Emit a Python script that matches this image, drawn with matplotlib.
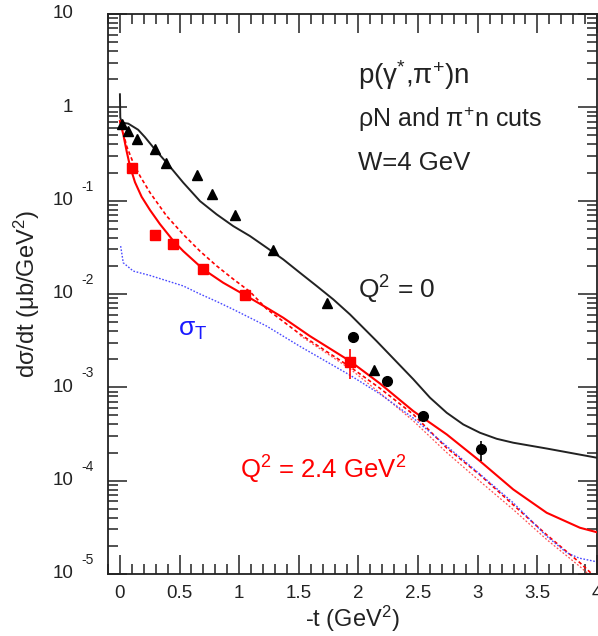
import matplotlib
matplotlib.use('Agg')
import matplotlib.pyplot as plt
import matplotlib.transforms as mtransforms
from matplotlib.ticker import FixedLocator, LogLocator, NullFormatter, MultipleLocator, FixedFormatter

plt.rcParams['font.family'] = ['Liberation Sans', 'DejaVu Sans']
plt.rcParams['mathtext.fontset'] = 'custom'
plt.rcParams['mathtext.rm'] = 'Liberation Sans'
plt.rcParams['mathtext.it'] = 'Liberation Sans:italic'
plt.rcParams['mathtext.bf'] = 'Liberation Sans:bold'

# ---------------- data ----------------
# Q^2 = 0 data (triangles and circles)
tri_t = [0.014, 0.07, 0.14, 0.293, 0.39, 0.643, 0.769, 0.964, 1.286, 1.733, 2.130]
tri_v = [0.657, 0.557, 0.454, 0.355, 0.255, 0.187, 0.117, 0.0701, 0.0293, 0.00793, 0.00153]
circ_t = [1.951, 2.241, 2.543, 3.027]
circ_v = [0.00349, 0.00116, 4.91e-4, 2.16e-4]
circ_elo = [0.0, 0.0, 0.0, 0.54e-4]
circ_ehi = [0.0, 0.0, 0.0, 0.49e-4]
# Q^2 = 2.4 data (squares)
sq_t = [0.098, 0.293, 0.447, 0.699, 1.048, 1.929]
sq_v = [0.226, 0.0428, 0.034, 0.0184, 0.00966, 0.00186]
sq_elo = [0.01, 0.003, 0.003, 0.002, 0.0008, 0.00064]
sq_ehi = [0.01, 0.003, 0.003, 0.002, 0.0008, 0.00069]

# model curves
bk_t = [0, 0.003, 0.014, 0.07, 0.153, 0.21, 0.293, 0.392, 0.531, 0.671, 0.811, 0.950, 1.090,
        1.230, 1.369, 1.509, 1.649, 1.789, 1.929, 2.152, 2.460, 2.600, 2.740, 2.879, 3.019,
        3.159, 3.298, 3.578, 4.0]
bk_v = [1.38, 0.78, 0.686, 0.669, 0.575, 0.479, 0.355, 0.255, 0.156, 0.099, 0.0713, 0.0534,
        0.0418, 0.0314, 0.0235, 0.0169, 0.0122, 0.00875, 0.00604, 0.00313, 0.00122, 7.74e-4,
        5.34e-4, 4.0e-4, 3.26e-4, 2.81e-4, 2.55e-4, 2.21e-4, 1.76e-4]

rs_t = [0, 0.028, 0.056, 0.084, 0.126, 0.182, 0.252, 0.335, 0.447, 0.531, 0.699, 0.866, 1.048,
        1.230, 1.369, 1.593, 1.929, 2.180, 2.460, 2.740, 3.019, 3.298, 3.578, 3.857, 4.0]
rs_v = [0.713, 0.514, 0.340, 0.235, 0.158, 0.110, 0.0794, 0.0562, 0.0372, 0.0288, 0.0184, 0.0132,
        0.00973, 0.00713, 0.00557, 0.00354, 0.00191, 0.0011, 5.56e-4, 3.13e-4, 1.62e-4, 8.05e-5,
        4.53e-5, 3.13e-5, 2.8e-5]

d1_t = [0, 0.028, 0.056, 0.11, 0.168, 0.252, 0.392, 0.531, 0.671, 0.811, 0.950, 1.090, 1.230,
        1.509, 1.929, 2.180, 2.460, 2.740, 3.020, 3.298, 3.578, 3.857, 4.0]
d1_v = [0.713, 0.537, 0.385, 0.257, 0.184, 0.122, 0.0684, 0.0435, 0.0288, 0.0200, 0.01445,
        0.0106, 0.00692, 0.00372, 0.00166, 9.77e-4, 5.13e-4, 2.24e-4, 1.15e-4, 5.5e-5, 2.63e-5,
        1.32e-5, 8.9e-6]

d2_t = [1.509, 1.929, 2.180, 2.460, 2.740, 3.020, 3.298, 3.578, 3.857, 4.0]
d2_v = [0.00360, 0.00158, 8.7e-4, 4.37e-4, 2.0e-4, 9.8e-5, 4.9e-5, 2.34e-5, 1.2e-5, 8.3e-6]

bl_t = [0.006, 0.028, 0.112, 0.252, 0.531, 0.671, 0.811, 0.950, 1.230, 1.509, 1.929, 2.180,
        2.460, 2.740, 3.020, 3.298, 3.578, 3.746, 3.850, 4.0]
bl_v = [0.0326, 0.0216, 0.0176, 0.0158, 0.0122, 0.0100, 0.00832, 0.00684, 0.00453, 0.00275,
        0.00135, 8.5e-4, 4.68e-4, 2.34e-4, 1.17e-4, 5.79e-5, 2.54e-5, 1.69e-5, 1.48e-5, 1.35e-5]

x_ticks = [0, 0.5, 1, 1.5, 2, 2.5, 3, 3.5, 4]
x_ticklabels = ['0', '0.5', '1', '1.5', '2', '2.5', '3', '3.5', '4']
y_decades = [10, 1, 1e-1, 1e-2, 1e-3, 1e-4, 1e-5]
y_bases = ['10', '1', '10', '10', '10', '10', '10']
y_exps = ['', '', '-1', '-2', '-3', '-4', '-5']

# ---------------- figure ----------------
fig = plt.figure(figsize=(5.98, 6.36), dpi=100)
ax = fig.add_axes([108/598, 62/636, 489/598, 560/636])
ax.set_yscale('log')
ax.set_xlim(-0.1, 4.0)
ax.set_ylim(1e-5, 10)

RED = '#ff0000'
INK = '#222222'
ax.plot(bk_t, bk_v, color=INK, lw=1.4, zorder=3)
ax.plot(rs_t, rs_v, color=RED, lw=1.5, zorder=3)
ax.plot(d1_t, d1_v, color=RED, lw=1.2, ls=(0, (2.2, 1.6)), zorder=2)
ax.plot(d2_t, d2_v, color='#ff5050', lw=0.9, ls=(0, (1.5, 1.5)), zorder=2)
ax.plot(bl_t, bl_v, color='#4a4aff', lw=1.0, ls=(0, (1.2, 1.2)), zorder=2)

ax.plot(tri_t, tri_v, ls='none', marker='^', ms=7.5, color='black', zorder=4)
ax.errorbar(circ_t, circ_v, yerr=[circ_elo, circ_ehi], fmt='o', ms=7, color='black',
            elinewidth=1.2, capsize=0, zorder=4)
ax.errorbar(sq_t, sq_v, yerr=[sq_elo, sq_ehi], fmt='s', ms=7.5, color=RED,
            elinewidth=1.2, capsize=0, zorder=5)

# ticks
ax.xaxis.set_major_locator(FixedLocator(x_ticks))
ax.xaxis.set_major_formatter(FixedFormatter(x_ticklabels))
ax.xaxis.set_minor_locator(MultipleLocator(0.1))
ax.yaxis.set_major_locator(FixedLocator(y_decades))
ax.yaxis.set_major_formatter(NullFormatter())
ax.yaxis.set_minor_locator(LogLocator(base=10, subs=[2, 3, 4, 5, 6, 7, 8, 9], numticks=20))
ax.yaxis.set_minor_formatter(NullFormatter())
ax.tick_params(which='both', direction='in', top=True, right=True, width=1.1, color=INK)
ax.tick_params(which='major', length=14)
ax.tick_params(which='minor', length=7)
ax.tick_params(axis='x', which='major', labelsize=13.5, pad=8, labelcolor=INK)
for s in ax.spines.values():
    s.set_linewidth(1.3)
    s.set_color(INK)

# y tick labels (base + raised exponent)
ytr = ax.get_yaxis_transform()
etr = mtransforms.offset_copy(ytr, fig=fig, x=0, y=10, units='points')
for v, b, e in zip(y_decades, y_bases, y_exps):
    ax.text(-0.0706, v, b, transform=ytr, ha='right', va='center', fontsize=13.5,
            color=INK, clip_on=False)
    if e:
        ax.text(-0.0537, v, e, transform=etr, ha='left', va='center', fontsize=10,
                color=INK, clip_on=False)

ax.set_xlabel('-t (GeV$^{2}$)', fontsize=17, labelpad=1, color=INK)
ax.text(-0.165, 0.5, 'd\u03c3/dt (\u03bcb/GeV$^{2}$)', transform=ax.transAxes, rotation=90,
        ha='center', va='center', fontsize=17, color=INK)

# annotations
ax.text(0.511, 0.891, 'p(\u03b3$^{*}$,\u03c0$^{+}$)n', transform=ax.transAxes,
        ha='left', va='center', fontsize=20, color=INK)
ax.text(0.511, 0.811, '\u03c1N and \u03c0$^{+}$n cuts', transform=ax.transAxes,
        ha='left', va='center', fontsize=18, color=INK)
ax.text(0.511, 0.734, 'W=4 GeV', transform=ax.transAxes,
        ha='left', va='center', fontsize=18.5, color=INK)
ax.text(0.511, 0.507, 'Q$^{2}$ = 0', transform=ax.transAxes,
        ha='left', va='center', fontsize=19, color=INK)
ax.text(0.143, 0.436, '\u03c3$_{\\mathrm{T}}$', transform=ax.transAxes,
        ha='left', va='center', fontsize=19, color='#1a1aff')
ax.text(0.27, 0.186, 'Q$^{2}$ = 2.4 GeV$^{2}$', transform=ax.transAxes,
        ha='left', va='center', fontsize=18.5, color=RED)

fig.savefig('out.png', dpi=100)
